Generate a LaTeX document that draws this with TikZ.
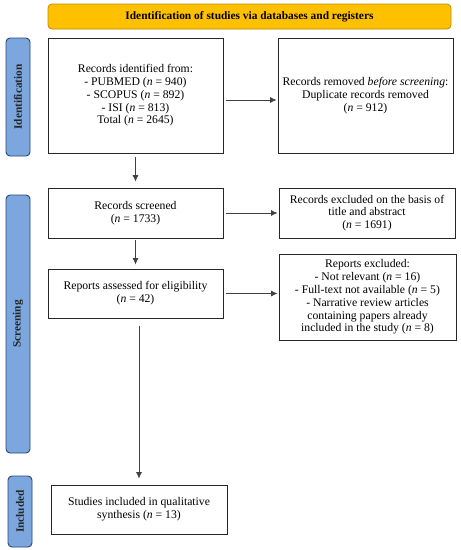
\documentclass[tikz,border=0pt]{standalone}
\usepackage{fontspec}
\setmainfont{Liberation Serif}
\usetikzlibrary{arrows.meta}
\definecolor{hdrfill}{RGB}{255,192,0}
\definecolor{hdrdraw}{RGB}{190,140,0}
\definecolor{sidefill}{RGB}{124,167,222}
\definecolor{sidedraw}{RGB}{40,70,120}
\tikzset{
  pbox/.style={draw=black!85, line width=0.9pt, fill=white, align=center, inner sep=2pt,
    font=\fontsize{11.7}{12.8}\selectfont},
  hdr/.style={draw=hdrdraw, fill=hdrfill, line width=0.8pt, rounded corners=4pt,
    font=\fontsize{11.4}{13}\selectfont\bfseries},
  side/.style={draw=sidedraw, fill=sidefill, line width=0.9pt, rounded corners=4pt},
  sidelbl/.style={rotate=90, font=\fontsize{11.3}{13}\selectfont\bfseries, text=black!85},
  arr/.style={-{Latex[length=6.5pt,width=6pt]}, line width=0.7pt, draw=black!75}
}
\begin{document}
\begin{tikzpicture}[x=1pt,y=-1pt]
\useasboundingbox (0,0) rectangle (461,550);
% header
\node[hdr, minimum width=403pt, minimum height=25pt] (hdr) at (249.5,16.5)
  {Identification of studies via databases and registers};
% side bars
\node[side, minimum width=24pt, minimum height=118pt] (s1) at (18,97) {};
\node[sidelbl] (s1l) at (s1.center) {Identification};
\node[side, minimum width=24pt, minimum height=258pt] (s2) at (18,324) {};
\node[sidelbl] (s2l) at (s2.center) {Screening};
\node[side, minimum width=24pt, minimum height=71pt] (s3) at (20,511.5) {};
\node[sidelbl] (s3l) at (s3.center) {Included};
% boxes
\node[pbox, minimum width=175pt, minimum height=115pt] (b1) at (135.5,95.5)
  {Records identified from:\\ - PUBMED (\textit{n} = 940)\\ - SCOPUS (\textit{n} = 892)\\ - ISI (\textit{n} = 813)\\ Total (\textit{n} = 2645)};
\node[pbox, minimum width=175pt, minimum height=115pt] (b2) at (365.5,95.5)
  {Records removed \textit{before screening}:\\ Duplicate records removed\\ (\textit{n} = 912)};
\node[pbox, minimum width=175pt, minimum height=50pt] (b3) at (135.5,213)
  {Records screened\\ (\textit{n} = 1733)};
\node[pbox, minimum width=176pt, minimum height=50pt] (b4) at (367,213)
  {Records excluded on the basis of\\ title and abstract\\ (\textit{n} = 1691)};
\node[pbox, minimum width=175pt, minimum height=49pt] (b5) at (135.5,293.5)
  {Reports assessed for eligibility\\ (\textit{n} = 42)};
\node[pbox, minimum width=177pt, minimum height=86pt] (b6) at (367.5,297)
  {Reports excluded:\\ - Not relevant (\textit{n} = 16)\\ - Full-text not available (\textit{n} = 5)\\ - Narrative review articles\\ containing papers already\\ included in the study (\textit{n} = 8)};
\node[pbox, minimum width=176pt, minimum height=49pt] (b7) at (139,509.5)
  {Studies included in qualitative\\ synthesis (\textit{n} = 13)};
% arrows
\draw[arr, shorten <=3pt, shorten >=1pt] ([yshift=-4.5pt]b1.east) -- ([yshift=-4.5pt]b1.east -| b2.west);
\draw[arr, shorten <=4pt, shorten >=6pt] (b1.south) -- (b3.north);
\draw[arr, shorten <=3pt, shorten >=1pt] (b3.east) -- (b3.east -| b4.west);
\draw[arr, shorten <=2pt, shorten >=4pt] (b3.south) -- (b5.north);
\draw[arr, shorten <=3pt, shorten >=1pt] (b5.east) -- (b5.east -| b6.west);
\draw[arr, shorten <=8pt, shorten >=6pt] (b5.south -| b7.north) -- (b7.north);
\end{tikzpicture}
\end{document}
